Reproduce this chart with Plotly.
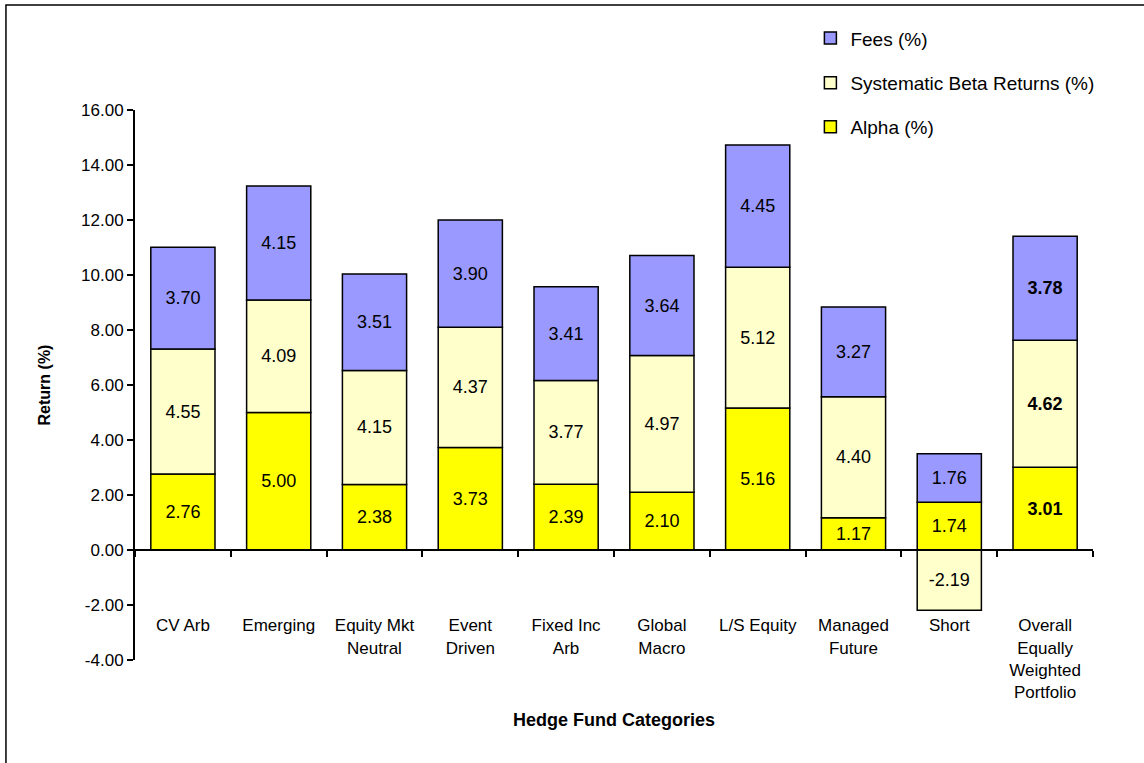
import plotly.graph_objects as go

categories = ["CV Arb", "Emerging", "Equity Mkt<br>Neutral", "Event<br>Driven", "Fixed Inc<br>Arb",
              "Global<br>Macro", "L/S Equity", "Managed<br>Future", "Short",
              "Overall<br>Equally<br>Weighted<br>Portfolio"]
alpha = [2.76, 5.00, 2.38, 3.73, 2.39, 2.10, 5.16, 1.17, 1.74, 3.01]
beta = [4.55, 4.09, 4.15, 4.37, 3.77, 4.97, 5.12, 4.40, -2.19, 4.62]
fees = [3.70, 4.15, 3.51, 3.90, 3.41, 3.64, 4.45, 3.27, 1.76, 3.78]
y_ticks = [-4, -2, 0, 2, 4, 6, 8, 10, 12, 14, 16]
y_ticktext = ["-4.00", "-2.00", "0.00", "2.00", "4.00", "6.00", "8.00", "10.00", "12.00", "14.00", "16.00"]

FONT = "Liberation Sans, Arial, sans-serif"


def labels(vals):
    out = []
    for i, v in enumerate(vals):
        s = f"{v:.2f}"
        out.append(f"<b>{s}</b>" if i == len(vals) - 1 else s)
    return out


fig = go.Figure()
series = [
    ("Alpha (%)", alpha, "#FFFF00", "legend3"),
    ("Systematic Beta Returns (%)", beta, "#FFFFCC", "legend2"),
    ("Fees (%)", fees, "#9999FF", "legend"),
]
for name, vals, color, lg in series:
    fig.add_trace(go.Bar(
        x=categories, y=vals, name=name, legend=lg, showlegend=True,
        marker=dict(color=color, line=dict(color="black", width=1.5)),
        text=labels(vals), textposition="inside", insidetextanchor="middle",
        textangle=0, constraintext="none",
        insidetextfont=dict(family=FONT, size=18, color="black"),
        hoverinfo="skip",
    ))

legend_common = dict(font=dict(family=FONT, size=19, color="black"),
                     bgcolor="rgba(0,0,0,0)", xanchor="left", yanchor="top",
                     itemwidth=30)
fig.update_layout(
    width=1144, height=763,
    margin=dict(l=135, r=51, t=110, b=103, autoexpand=False),
    paper_bgcolor="white", plot_bgcolor="white",
    barmode="relative", bargap=0.33, showlegend=True,
    font=dict(family=FONT, size=18, color="black"),
    legend=dict(x=0.705, y=1.165, **legend_common),
    legend2=dict(x=0.705, y=1.084, **legend_common),
    legend3=dict(x=0.705, y=1.004, **legend_common),
    xaxis=dict(
        anchor="free", position=0.2, showline=True, linecolor="black", linewidth=2,
        ticks="outside", tickson="boundaries", ticklen=6, tickwidth=1.5, tickcolor="black",
        ticklabelstandoff=60, tickfont=dict(family=FONT, size=17, color="black"),
        showgrid=False, zeroline=False, automargin=False,
    ),
    yaxis=dict(
        range=[-4, 16], tickvals=y_ticks, ticktext=y_ticktext,
        showline=True, linecolor="black", linewidth=2,
        ticks="outside", ticklen=6, tickwidth=1.5, tickcolor="black",
        tickfont=dict(family=FONT, size=17, color="black"),
        showgrid=False, zeroline=False, automargin=False,
        title=dict(text="<b>Return (%)</b>", font=dict(family=FONT, size=16), standoff=26),
    ),
    annotations=[dict(
        text="<b>Hedge Fund Categories</b>", xref="paper", yref="paper",
        x=0.5, y=-0.109, xanchor="center", yanchor="middle", showarrow=False,
        font=dict(family=FONT, size=18, color="black"),
    )],
    shapes=[dict(
        type="rect", xref="paper", yref="paper",
        x0=-0.1347, x1=1.08, y0=-0.25, y1=1.191,
        line=dict(color="black", width=1.5), fillcolor="rgba(0,0,0,0)", layer="below",
    )],
)

fig.write_html("out.html", config={"displayModeBar": False},
               post_script="document.body.style.margin='0';")
